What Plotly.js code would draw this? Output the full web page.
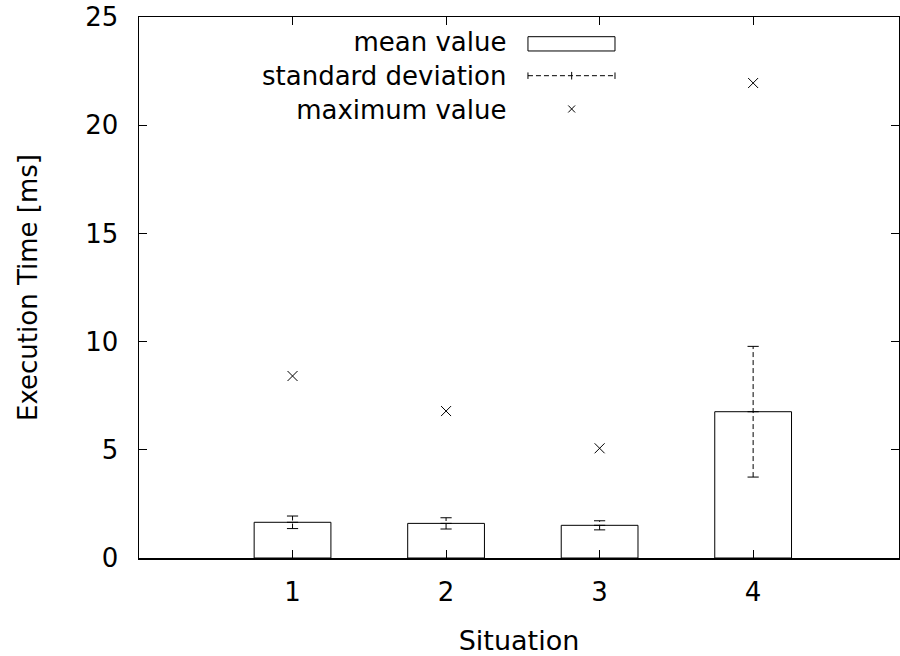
<!DOCTYPE html>
<html>
<head>
<meta charset="utf-8">
<script src="https://cdn.plot.ly/plotly-3.0.1.min.js"></script>
<style>html,body{margin:0;padding:0;background:#fff;}#chart{width:900px;height:656px;}</style>
</head>
<body>
<div id="chart"></div>
<script>
// Data
var situations = [1, 2, 3, 4];
var meanValues = [1.65, 1.60, 1.51, 6.76];
var stdDevs = [0.29, 0.26, 0.21, 3.02];
var maxValues = [8.41, 6.79, 5.07, 21.95];
var tickLabels = ['1', '2', '3', '4'];
var legendLabels = ['mean value', 'standard deviation', 'maximum value'];

var FONT = 'DejaVu Sans, Noto Sans, sans-serif';
var TS = 26, LS = 26;

// dashed error lines built from data (x, mean-sd .. mean+sd)
var errX = [], errY = [], capX = [], capY = [];
for (var i = 0; i < situations.length; i++) {
  errX.push(situations[i], situations[i], null);
  errY.push(meanValues[i] - stdDevs[i], meanValues[i] + stdDevs[i], null);
  capX.push(situations[i], situations[i]);
  capY.push(meanValues[i] - stdDevs[i], meanValues[i] + stdDevs[i]);
}

var traces = [
  {type: 'bar', x: situations, y: meanValues, width: 0.5,
   marker: {color: '#ffffff', line: {color: '#000000', width: 1}},
   hoverinfo: 'skip', showlegend: false},
  {type: 'scatter', mode: 'lines', x: errX, y: errY,
   line: {color: '#000000', width: 1, dash: '5px,3px'}, connectgaps: false,
   hoverinfo: 'skip', showlegend: false},
  {type: 'scatter', mode: 'markers', x: capX, y: capY,
   marker: {symbol: 'line-ew', size: 8, line: {color: '#000000', width: 1}},
   hoverinfo: 'skip', showlegend: false},
  {type: 'scatter', mode: 'markers', x: situations, y: meanValues,
   marker: {symbol: 'line-ew', size: 8, line: {color: '#000000', width: 1}},
   hoverinfo: 'skip', showlegend: false},
  {type: 'scatter', mode: 'markers', x: situations, y: maxValues,
   marker: {symbol: 'x-thin-open', size: 10, color: '#000000', line: {color: '#000000', width: 1}},
   hoverinfo: 'skip', showlegend: false}
];

// manual gnuplot-style legend (paper coordinates)
var lx = 0.4855, sx0 = 0.5118, sx1 = 0.6263, sxm = 0.5693;
var annotations = [{
  xref: 'paper', yref: 'paper', x: lx, y: 0.891, xanchor: 'right', yanchor: 'middle', align: 'right',
  text: legendLabels.join('<br>'), showarrow: false, font: {family: FONT, size: LS, color: '#000'}
}];
var shapes = [
  {type: 'rect', xref: 'paper', yref: 'paper', x0: sx0, x1: sx1, y0: 0.9372, y1: 0.9636,
   line: {color: '#000', width: 1}, fillcolor: 'rgba(0,0,0,0)'},
  {type: 'line', xref: 'paper', yref: 'paper', x0: sx0, x1: sx1, y0: 0.8915, y1: 0.8915,
   line: {color: '#000', width: 1, dash: '5px,3px'}},
  {type: 'line', xref: 'paper', yref: 'paper', x0: sx0, x1: sx0, y0: 0.8915 - 0.006, y1: 0.8915 + 0.006,
   line: {color: '#000', width: 1}},
  {type: 'line', xref: 'paper', yref: 'paper', x0: sx1, x1: sx1, y0: 0.8915 - 0.006, y1: 0.8915 + 0.006,
   line: {color: '#000', width: 1}},
  {type: 'line', xref: 'paper', yref: 'paper', x0: sxm, x1: sxm, y0: 0.8915 - 0.007, y1: 0.8915 + 0.007,
   line: {color: '#000', width: 1}},
  {type: 'line', xref: 'paper', yref: 'paper', x0: sxm - 0.0045, x1: sxm + 0.0045, y0: 0.830 - 0.0065, y1: 0.830 + 0.0065,
   line: {color: '#000', width: 1}},
  {type: 'line', xref: 'paper', yref: 'paper', x0: sxm - 0.0045, x1: sxm + 0.0045, y0: 0.830 + 0.0065, y1: 0.830 - 0.0065,
   line: {color: '#000', width: 1}}
];

var layout = {
  width: 900, height: 656,
  margin: {l: 139, r: 1, t: 17, b: 98, pad: 0},
  paper_bgcolor: '#ffffff', plot_bgcolor: '#ffffff',
  font: {family: FONT, size: TS, color: '#000'},
  showlegend: false,
  xaxis: {
    range: [0, 4.95], tickmode: 'array', tickvals: situations, ticktext: tickLabels,
    ticks: 'inside', ticklen: 8, tickwidth: 1, tickcolor: '#000',
    showline: true, linecolor: '#000', linewidth: 1.5, mirror: 'allticks',
    showgrid: false, zeroline: false, fixedrange: true,
    ticklabelstandoff: 10, ticklabeloverflow: 'allow',
    tickfont: {family: FONT, size: TS, color: '#000'},
    title: {text: 'Situation', font: {family: FONT, size: 27, color: '#000'}, standoff: 25}
  },
  yaxis: {
    range: [0, 25], tickmode: 'array', tickvals: [0, 5, 10, 15, 20, 25],
    ticks: 'inside', ticklen: 8, tickwidth: 1, tickcolor: '#000',
    showline: true, linecolor: '#000', linewidth: 1.5, mirror: 'allticks',
    showgrid: false, zeroline: false, fixedrange: true,
    ticklabelstandoff: 14, ticklabeloverflow: 'allow',
    tickfont: {family: FONT, size: TS, color: '#000'},
    title: {text: 'Execution Time [ms]', font: {family: FONT, size: 26, color: '#000'}, standoff: 40}
  },
  annotations: annotations,
  shapes: shapes
};

Plotly.newPlot('chart', traces, layout, {displayModeBar: false, staticPlot: true});
</script>
</body>
</html>
